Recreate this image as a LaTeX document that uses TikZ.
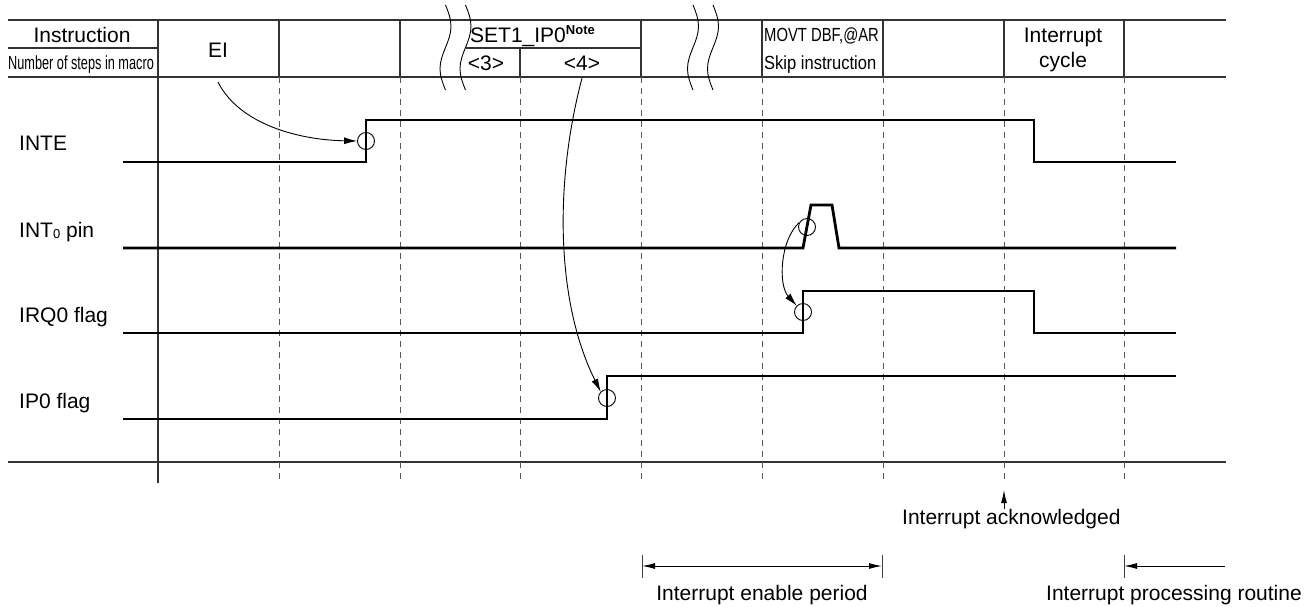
\documentclass[tikz,border=0pt]{standalone}
\usepackage{fontspec}
\setmainfont{Liberation Sans}
\usetikzlibrary{arrows.meta}
\begin{document}
\begin{tikzpicture}[x=1pt,y=-1pt,
  grid/.style={line width=1.1pt, black!80},
  dashln/.style={line width=1pt, black!65, dash pattern=on 6pt off 5pt},
  sig/.style={line width=2.8pt, black, line join=miter},
  brk/.style={line width=0.9pt, black},
  circ/.style={circle, draw, line width=0.9pt, minimum size=17pt, inner sep=0pt},
  lbl/.style={inner sep=0pt, anchor=base, font=\fontsize{21}{25}\selectfont},
  narrowlbl/.style={inner sep=0pt, anchor=base, font=\fontsize{19}{22}\selectfont},
  arr/.style={line width=0.9pt, -{Latex[length=13pt,width=7pt]}},
  dimln/.style={line width=1pt, {Latex[length=13pt,width=6pt]}-{Latex[length=13pt,width=6pt]}},
  onearr/.style={line width=1pt, -{Latex[length=13pt,width=6pt]}},
  tick/.style={line width=1pt, black!75},
]
\useasboundingbox (0,0) rectangle (1315,606);

% ---------- header grid ----------
\draw[grid] (8,20) -- (1226,20);
\draw[grid] (8,77) -- (1226,77);
\draw[grid] (8,48) -- (158,48);
\draw[grid] (466,48) -- (641,48);
\draw[grid] (8,462) -- (1226,462);
\draw[grid] (158,20) -- (158,483);
\foreach \x in {279,400,641,762,883,1004,1124} \draw[grid] (\x,20) -- (\x,77);
\draw[grid] (520,48) -- (520,77);
\foreach \x in {279,400,520,641,762,883,1004,1124} \draw[dashln] (\x,77) -- (\x,483);

% ---------- break marks ----------
\foreach \xo in {445.5,465.5,693,713}{
  \draw[brk] (\xo,5)
    .. controls ({\xo+2.82},11.93) and ({\xo+5.5},18.56) .. ({\xo+5.5},26.25)
    .. controls ({\xo+5.5},33.94) and ({\xo+2.82},40.57) .. (\xo,47.5)
    .. controls ({\xo-2.82},54.43) and ({\xo-5.5},61.06) .. ({\xo-5.5},68.75)
    .. controls ({\xo-5.5},76.44) and ({\xo-2.82},83.07) .. (\xo,90);
}

% ---------- header texts ----------
\node[lbl] (instr) at (82,42) {Instruction};
\node[narrowlbl] (steps) at (81,69) {\scalebox{0.67}[1]{Number of steps in macro}};
\node[lbl] (ei) at (218,57) {EI};
\node[lbl, anchor=base west] (set) at (470,42) {SET1\_IP0\raisebox{8pt}{\fontsize{13}{13}\selectfont\bfseries Note}};
\node[lbl] (n3) at (486,70) {<3>};
\node[lbl] (n4) at (582,70) {<4>};
\node[narrowlbl, anchor=base west] (movt) at (764,41) {\scalebox{0.78}[1]{MOVT DBF,@AR}};
\node[narrowlbl, anchor=base west] (skip) at (764,69) {\scalebox{0.87}[1]{Skip instruction}};
\node[lbl] (icyc1) at (1063,42) {Interrupt};
\node[lbl] (icyc2) at (1063,67) {cycle};

% ---------- signal labels ----------
\node[lbl, anchor=base west] (linte) at (19,150) {INTE};
\node[lbl, anchor=base west] (lint0) at (19,237) {INT\raisebox{-1pt}{\fontsize{13}{13}\selectfont 0} pin};
\node[lbl, anchor=base west] (lirq) at (19,322) {IRQ0 flag};
\node[lbl, anchor=base west] (lip) at (19,408) {IP0 flag};

% ---------- waveforms ----------
\draw[sig] (123,162) -- (366,162) -- (366,120) -- (1034,120) -- (1034,162) -- (1176,162);
\draw[sig] (123,248) -- (803,248) -- (811,205) -- (832,205) -- (839,248) -- (1176,248);
\draw[sig] (123,333) -- (803,333) -- (803,291) -- (1034,291) -- (1034,333) -- (1176,333);
\draw[sig] (123,419) -- (607,419) -- (607,376) -- (1176,376);

% ---------- circles ----------
\node[circ] (c1) at (366,141) {};
\node[circ] (c2) at (807,227) {};
\node[circ] (c3) at (803,312) {};
\node[circ] (c4) at (607,398) {};

% ---------- cause arrows ----------
\draw[arr] ([yshift=-25pt]ei.south) .. controls (240,125) and (300,140) .. (c1.west);
\draw[arr] ([yshift=-8pt]n4.south) .. controls (555,180) and (555,300) .. (c4.north west);
\draw[arr] (c2.150) .. controls (780,240) and (778,285) .. (c3.north west);

% ---------- bottom annotations ----------
\node[lbl, anchor=base west] (ack) at (902,524) {Interrupt acknowledged};
\coordinate (acktip) at (1004,490);
\coordinate (ackfoot) at (1004,509);
\draw[onearr] (ackfoot) -- (acktip);

\coordinate (e1) at (642,566);
\coordinate (e2) at (882,566);
\draw[tick] (642,555) -- (642,578);
\draw[tick] (882,555) -- (882,578);
\draw[dimln] (e1) -- (e2);
\node[lbl] (enp) at (762,600) {Interrupt enable period};

\coordinate (r1) at (1124,566);
\coordinate (r2) at (1225,566);
\draw[tick] (1124,555) -- (1124,578);
\draw[onearr] (r2) -- (r1);
\node[lbl, anchor=base east] (ipr) at (1302,600) {Interrupt processing routine};
\end{tikzpicture}
\end{document}
